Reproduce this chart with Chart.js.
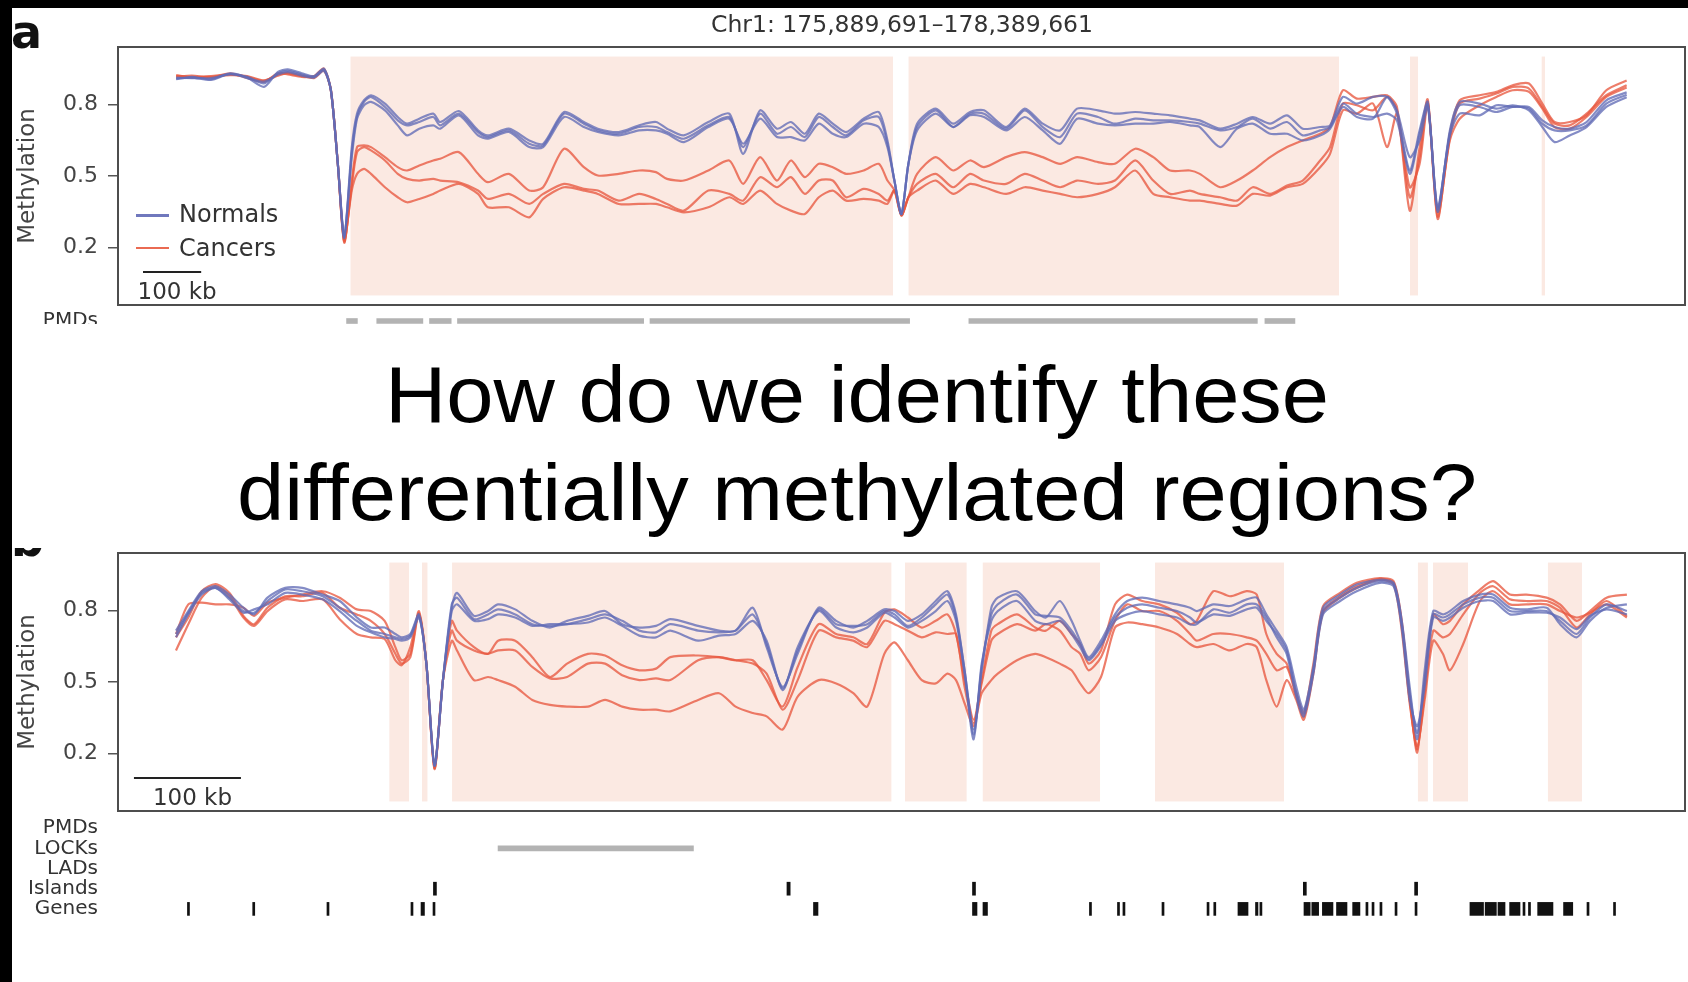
<!DOCTYPE html>
<html>
<head>
<meta charset="utf-8">
<title>Differentially methylated regions</title>
<script src="https://cdn.jsdelivr.net/npm/chart.js@4.4.0/dist/chart.umd.min.js"></script>
<style>
    html, body { margin: 0; padding: 0; background: #fff; }
    #page { position: relative; width: 1688px; height: 982px; overflow: hidden; background: #fff; }
    canvas { position: absolute; left: 0; }
    .txt { position: absolute; white-space: nowrap; font-family: 'DejaVu Sans', sans-serif; color: #333; line-height: 1; }
    .swatch { position: absolute; height: 2.5px; }
    .mask { position: absolute; background: #fff; }
    .black { position: absolute; background: #000; }
    .question { position: absolute; left: 857px; white-space: nowrap; font-family: 'Liberation Sans', Arial, sans-serif;
                font-size: 79px; line-height: 1; color: #000; transform: translateX(-50%) scaleX(1.075); }
</style>
</head>
<body>
<div id="page">
    <canvas id="chartA" width="1688" height="312" style="top:0px"></canvas>
    <canvas id="trackA" width="1688" height="35" style="top:305px"></canvas>
    <canvas id="chartB" width="1688" height="280" style="top:540px"></canvas>
    <canvas id="trackB" width="1688" height="110" style="top:814px"></canvas>

    <div class="txt" style="left:11px; top:9px; font-size:46px; font-weight:bold; color:#111">a</div>
    <div class="txt" style="left:11px; top:517px; font-size:46px; font-weight:bold; color:#111">b</div>
    <div class="txt" style="left:902px; top:12.5px; font-size:23.5px; transform:translateX(-50%)">Chr1: 175,889,691–178,389,661</div>

    <div class="swatch" style="left:136px; top:214px; width:33px; background:#7078bd"></div>
    <div class="txt" style="left:179px; top:202px; font-size:24px">Normals</div>
    <div class="swatch" style="left:136px; top:246.5px; width:33px; background:#ea6a52"></div>
    <div class="txt" style="left:179px; top:236px; font-size:24px">Cancers</div>

    <div class="mask" style="left:12px; top:324px; width:1676px; height:224px"></div>
    <div class="question" style="top:355px">How do we identify these</div>
    <div class="question" style="top:453px">differentially methylated regions?</div>

    <div class="black" style="left:0; top:0; width:1688px; height:8px"></div>
    <div class="black" style="left:0; top:0; width:12px; height:982px"></div>
</div>

<script>
// Axis ticks
const yTicks = [0.2, 0.5, 0.8];
const trackLabels = ['PMDs', 'LOCKs', 'LADs', 'Islands', 'Genes'];

// Panel a: chr1 175,889,691-178,389,661, positions in kb from region start
const aKb = [2, 29, 62, 95, 124, 153, 177, 194, 218, 239, 256, 268, 280, 291, 304, 313, 325, 337, 361, 383,
    399, 420, 444, 456, 488, 521, 538, 574, 609, 633, 669, 703, 727, 763, 798, 827, 846, 875, 917, 953,
    977, 1006, 1035, 1059, 1083, 1107, 1131, 1154, 1184, 1210, 1225, 1237, 1249, 1261, 1276, 1308, 1338, 1367, 1391, 1429,
    1461, 1492, 1522, 1551, 1587, 1616, 1651, 1682, 1711, 1745, 1762, 1797, 1826, 1853, 1883, 1912, 1939, 1969, 1986, 2008,
    2032, 2060, 2084, 2101, 2123, 2140, 2154, 2171, 2192, 2209, 2243, 2272, 2300, 2328, 2351, 2372, 2398, 2427, 2461, 2496];
const aNormal1 = [.905, .915, .905, .93, .912, .873, .936, .946, .93, .918, .95, .86, .55, .24, .62, .761, .817, .838, .803, .747,
    .719, .74, .761, .726, .772, .691, .67, .698, .649, .635, .768, .726, .698, .684, .712, .726, .698, .67, .726, .761,
    .593, .775, .698, .726, .677, .761, .719, .684, .74, .768, .649, .48, .341, .55, .719, .782, .719, .768, .775, .705,
    .782, .719, .691, .782, .775, .761, .768, .761, .754, .74, .733, .698, .719, .747, .719, .754, .698, .705, .712, .831,
    .803, .831, .831, .761, .523, .691, .81, .35, .691, .81, .803, .782, .796, .775, .705, .642, .67, .705, .789, .83];
const aNormal2 = [.912, .91, .91, .925, .915, .888, .93, .94, .925, .915, .945, .86, .55, .245, .6, .75, .81, .831, .789, .733,
    .712, .726, .747, .712, .761, .684, .663, .691, .635, .628, .761, .719, .691, .677, .705, .705, .684, .656, .712, .747,
    .621, .761, .677, .705, .663, .747, .705, .67, .733, .747, .635, .48, .341, .55, .705, .775, .705, .761, .761, .698,
    .775, .705, .663, .761, .747, .719, .74, .733, .733, .726, .719, .691, .705, .74, .698, .726, .67, .691, .705, .803,
    .761, .747, .761, .733, .509, .677, .8, .36, .68, .796, .789, .768, .789, .782, .719, .691, .691, .712, .803, .84];
const aNormal3 = [.908, .912, .902, .928, .91, .895, .925, .935, .92, .912, .94, .86, .55, .25, .58, .74, .796, .81, .775, .712,
    .67, .698, .712, .698, .754, .67, .656, .684, .621, .621, .747, .705, .684, .67, .691, .691, .677, .642, .705, .74,
    .635, .74, .663, .663, .649, .719, .677, .663, .719, .705, .621, .48, .341, .55, .691, .761, .705, .754, .747, .691,
    .747, .691, .635, .74, .719, .712, .719, .719, .726, .712, .705, .621, .698, .719, .677, .677, .649, .67, .698, .789,
    .747, .74, .831, .775, .579, .649, .79, .37, .67, .761, .754, .796, .789, .789, .733, .705, .698, .726, .817, .85];
const aCancer1 = [.918, .915, .918, .925, .915, .898, .925, .93, .918, .915, .945, .86, .55, .22, .48, .621, .628, .621, .579, .537,
    .523, .544, .565, .572, .6, .509, .474, .509, .439, .453, .614, .537, .502, .509, .523, .516, .488, .481, .523, .565,
    .467, .579, .481, .565, .495, .551, .537, .509, .523, .551, .481, .44, .335, .411, .509, .579, .523, .565, .537, .579,
    .6, .579, .551, .579, .558, .551, .614, .579, .523, .523, .509, .453, .481, .523, .579, .621, .649, .677, .705, .859,
    .824, .831, .838, .789, .355, .621, .82, .32, .677, .817, .838, .852, .88, .887, .803, .726, .726, .754, .859, .9];
const aCancer2 = [.915, .92, .912, .93, .91, .894, .93, .925, .915, .918, .95, .86, .55, .225, .46, .6, .621, .607, .565, .509,
    .488, .481, .488, .481, .474, .439, .404, .425, .383, .425, .467, .446, .439, .397, .425, .404, .383, .355, .439, .425,
    .397, .495, .453, .495, .425, .481, .481, .411, .446, .425, .397, .44, .335, .411, .467, .509, .453, .509, .481, .467,
    .509, .481, .453, .481, .467, .481, .565, .481, .425, .439, .425, .411, .397, .453, .425, .46, .481, .565, .621, .803,
    .796, .775, .831, .775, .411, .579, .81, .33, .66, .803, .824, .845, .873, .866, .789, .719, .712, .761, .838, .88];
const aCancer3 = [.922, .912, .915, .922, .918, .9, .92, .932, .92, .91, .94, .86, .55, .23, .44, .509, .53, .509, .453, .411,
    .39, .404, .425, .439, .467, .425, .369, .369, .327, .404, .453, .439, .425, .383, .383, .383, .369, .348, .369, .411,
    .383, .439, .383, .355, .341, .411, .439, .397, .404, .397, .383, .44, .335, .411, .439, .481, .425, .467, .453, .425,
    .453, .439, .425, .411, .425, .453, .523, .425, .411, .397, .397, .383, .376, .425, .418, .453, .467, .537, .593, .775,
    .761, .803, .621, .761, .453, .551, .8, .35, .65, .74, .796, .831, .859, .852, .782, .705, .698, .747, .831, .87];
const aShaded = [[301.8, 1234.5], [1261.3, 2001.4], [2123.5, 2137.2], [2349.9, 2355.6]];
const aPmds = [[295, 313.6], [346.9, 426.2], [437.6, 474.9], [485.7, 805.8], [816.7, 1263.1], [1365, 1861], [1874, 1925.6]];

// Panel b: positions in kb from region start
const bKb = [0, 11.5, 24, 37, 50, 63, 73, 85.5, 102, 118, 137, 153, 169, 182, 195, 205, 211, 219, 227, 234,
    241.6, 249.5, 257.7, 262.6, 278.5, 291.6, 301, 317, 333, 349.5, 365.5, 385, 401, 417, 433, 448.6, 462, 488, 507.5, 523,
    539, 552, 567, 581, 600.6, 617, 633, 646, 662, 671.5, 684, 697, 710, 721, 729, 737, 745.5, 753, 762, 768,
    786, 803, 813, 826, 837, 845, 853, 864.5, 877.6, 889, 903, 919, 935.5, 947.7, 954, 969.5, 985, 1000.7, 1010, 1019,
    1028.7, 1038, 1047, 1054, 1063, 1072, 1088, 1103.5, 1125, 1138, 1145.6, 1153, 1160, 1167, 1175, 1184, 1190.6, 1203, 1218.7, 1231,
    1246.7, 1262, 1281, 1293.5, 1309, 1321.5, 1337, 1356];
const bNormal1 = [.715, .797, .88, .901, .866, .811, .783, .853, .894, .894, .866, .839, .77, .728, .728, .701, .687, .701, .783, .577,
    .15, .508, .811, .873, .777, .797, .825, .804, .756, .728, .756, .777, .797, .742, .728, .735, .763, .735, .715, .715,
    .811, .646, .48, .618, .811, .756, .728, .756, .804, .797, .756, .783, .839, .88, .783, .549, .301, .549, .811, .853,
    .88, .797, .77, .839, .756, .673, .604, .673, .783, .839, .853, .839, .825, .811, .797, .825, .818, .846, .853, .783,
    .715, .646, .48, .384, .563, .811, .866, .908, .928, .915, .756, .48, .26, .549, .797, .783, .797, .839, .866, .866,
    .811, .804, .811, .742, .687, .756, .811, .825];
const bNormal2 = [.701, .79, .873, .894, .853, .797, .79, .839, .887, .88, .859, .811, .756, .715, .701, .687, .68, .694, .777, .577,
    .15, .508, .825, .853, .763, .783, .804, .783, .742, .735, .742, .763, .783, .756, .715, .708, .742, .715, .708, .715,
    .783, .659, .473, .632, .804, .742, .735, .742, .797, .783, .735, .77, .825, .866, .77, .549, .28, .563, .783, .825,
    .866, .783, .777, .77, .715, .659, .597, .659, .77, .811, .825, .811, .797, .77, .749, .783, .777, .804, .811, .756,
    .701, .632, .453, .37, .549, .797, .853, .894, .922, .908, .742, .453, .287, .508, .783, .77, .783, .825, .853, .853,
    .797, .797, .797, .756, .701, .77, .825, .797];
const bNormal3 = [.687, .783, .866, .894, .846, .79, .804, .825, .873, .866, .846, .797, .735, .708, .687, .68, .673, .687, .77, .577,
    .15, .508, .797, .825, .756, .763, .783, .77, .735, .742, .742, .749, .77, .735, .694, .687, .715, .673, .694, .701,
    .756, .673, .466, .646, .797, .728, .708, .728, .79, .77, .728, .756, .797, .839, .756, .535, .26, .577, .756, .797,
    .839, .756, .742, .756, .701, .646, .591, .652, .756, .783, .797, .783, .77, .742, .742, .804, .79, .825, .825, .77,
    .687, .618, .439, .356, .535, .783, .839, .88, .915, .901, .728, .425, .315, .48, .77, .756, .77, .811, .839, .839,
    .783, .79, .79, .77, .721, .777, .804, .783];
const bCancer1 = [.701, .825, .832, .825, .825, .811, .777, .832, .853, .866, .88, .853, .804, .797, .756, .646, .591, .618, .797, .577,
    .14, .508, .756, .715, .646, .618, .673, .673, .604, .521, .577, .618, .611, .57, .549, .556, .604, .611, .604, .591,
    .591, .508, .397, .563, .742, .701, .687, .659, .79, .804, .77, .728, .756, .783, .701, .508, .342, .508, .715, .742,
    .783, .728, .715, .756, .701, .659, .577, .632, .825, .866, .839, .825, .79, .742, .756, .88, .859, .88, .866, .701,
    .618, .577, .453, .37, .577, .818, .873, .915, .935, .922, .756, .439, .204, .508, .783, .742, .756, .825, .887, .922,
    .866, .866, .853, .825, .756, .797, .853, .866];
const bCancer2 = [.687, .77, .88, .91, .873, .777, .742, .811, .859, .859, .873, .811, .783, .756, .701, .618, .577, .604, .79, .577,
    .135, .508, .715, .673, .632, .618, .632, .632, .563, .515, .521, .577, .577, .528, .508, .515, .508, .591, .604, .591,
    .577, .535, .384, .508, .715, .687, .673, .646, .756, .742, .715, .687, .708, .701, .701, .48, .328, .494, .673, .701,
    .742, .715, .742, .715, .646, .618, .549, .604, .756, .825, .797, .797, .756, .701, .673, .701, .701, .687, .673, .618,
    .549, .563, .439, .356, .549, .797, .859, .901, .932, .915, .742, .425, .218, .453, .715, .687, .701, .783, .873, .901,
    .846, .839, .839, .811, .728, .783, .839, .777];
const bCancer3 = [.632, .742, .853, .901, .859, .77, .735, .797, .846, .839, .846, .763, .701, .687, .68, .591, .57, .646, .783, .577,
    .14, .508, .673, .632, .508, .521, .508, .48, .425, .404, .397, .397, .425, .397, .384, .384, .377, .425, .453, .397,
    .37, .356, .301, .439, .508, .494, .453, .397, .618, .666, .591, .508, .494, .535, .508, .411, .315, .453, .508, .535,
    .591, .618, .604, .577, .549, .494, .453, .521, .728, .749, .742, .728, .701, .659, .646, .659, .632, .659, .646, .508,
    .397, .508, .425, .342, .535, .79, .853, .894, .928, .908, .715, .411, .232, .425, .673, .618, .549, .659, .839, .88,
    .825, .825, .825, .797, .77, .79, .825, .77];
const bShaded = [[199.4, 217.8], [229.9, 235], [258, 668.6], [681.3, 738.9], [754, 863.6], [915, 1035.5],
    [1160.7, 1170], [1174.8, 1207.5], [1282.2, 1314]];
const bLocks = [[301, 483.6]];
const bIslands = [[240.6, 243.4], [571, 574], [744.4, 747.2], [1053.6, 1056.4], [1157.6, 1160.4]];
const bGenes = [[10.7, 12.6], [71.7, 73.6], [141.1, 143], [219.6, 221.5], [229, 232.2], [240.2, 242], [595.8, 600],
    [744.4, 748.6], [754.2, 758.4], [853.7, 855.6], [879.9, 881.8], [885, 886.9], [921.5, 923.4], [963.6, 965.4],
    [969.9, 971.8], [992.5, 1001.9], [1008.9, 1011.2], [1013, 1014.9], [1054.2, 1060], [1061.5, 1067.9], [1071.4, 1081.3],
    [1084.6, 1094.4], [1099.7, 1106.5], [1112.1, 1114], [1117.8, 1119.6], [1125.2, 1127.1], [1139.3, 1141.1], [1158, 1159.8],
    [1209.3, 1222], [1223.5, 1234], [1235.5, 1242.1], [1246.4, 1256.1], [1258.9, 1260.7], [1264, 1265.9], [1272.6, 1286.9],
    [1296.8, 1305.4], [1318.7, 1320.6], [1343.5, 1345.3]];

// Shared look
const colors = {
    normal: 'rgba(98, 108, 182, 0.78)',
    cancer: 'rgba(232, 88, 64, 0.78)',
    shade: '#fbe9e2',
    frame: '#4d4d4d',
    text: '#333',
    track: '#b3b3b3',
    tick: '#111'
};
Chart.defaults.font.family = "'DejaVu Sans', sans-serif";
Chart.defaults.color = colors.text;

// fixed axis width, and no extra room above/below for the tick labels
function pinAxis(s) {
    s.width = 118;
    s.paddingTop = 0;
    s.paddingBottom = 0;
}

// Shaded blocks, 100 kb bar and frame
const panelDecor = {
    id: 'panelDecor',
    beforeDatasetsDraw(chart, args, opts) {
        const { ctx, scales: { x, y } } = chart;
        const top = y.getPixelForValue(1), bottom = y.getPixelForValue(0);
        ctx.save();
        ctx.fillStyle = colors.shade;
        opts.shaded.forEach(([s, e]) => {
            const x0 = x.getPixelForValue(s), x1 = x.getPixelForValue(e);
            ctx.fillRect(x0, top, x1 - x0, bottom - top);
        });
        ctx.restore();
    },
    afterDraw(chart, args, opts) {
        const { ctx, chartArea: a, scales: { x, y } } = chart;
        ctx.save();
        const x0 = x.getPixelForValue(opts.barStart), x1 = x.getPixelForValue(opts.barStart + 100);
        const yb = Math.round(y.getPixelForValue(0.1));
        ctx.strokeStyle = '#222';
        ctx.lineWidth = 2.2;
        ctx.beginPath();
        ctx.moveTo(x0, yb);
        ctx.lineTo(x1, yb);
        ctx.stroke();
        ctx.fillStyle = colors.text;
        ctx.font = "23px 'DejaVu Sans'";
        ctx.textAlign = 'center';
        ctx.textBaseline = 'alphabetic';
        ctx.fillText('100 kb', (x0 + x1) / 2 + 5, y.getPixelForValue(-0.015));
        ctx.strokeStyle = colors.frame;
        ctx.lineWidth = 2;
        ctx.strokeRect(a.left, a.top, a.right - a.left, a.bottom - a.top);
        ctx.restore();
    }
};

function series(xs, ys, color) {
    return {
        data: xs.map((x, i) => ({ x, y: ys[i] })),
        borderColor: color,
        borderWidth: 2.2,
        pointRadius: 0,
        tension: 0.25,
        fill: false
    };
}

function methylationChart(id, xs, normals, cancers, xRange, pad, decor) {
    new Chart(document.getElementById(id), {
        type: 'line',
        data: {
            datasets: [
                ...normals.map(s => series(xs, s, colors.normal)),
                ...cancers.map(s => series(xs, s, colors.cancer))
            ]
        },
        options: {
            responsive: false,
            animation: false,
            devicePixelRatio: 1,
            layout: { padding: { top: pad.top, bottom: pad.bottom, left: 0, right: 3 } },
            plugins: {
                legend: { display: false },
                tooltip: { enabled: false },
                panelDecor: decor
            },
            scales: {
                x: { type: 'linear', min: xRange[0], max: xRange[1], display: false },
                y: {
                    min: -0.04,
                    max: 1.04,
                    afterBuildTicks: s => { s.ticks = yTicks.map(v => ({ value: v })); },
                    afterFit: pinAxis,
                    ticks: { font: { size: 22 }, color: '#444', padding: 10 },
                    grid: { drawOnChartArea: false, tickLength: 10, color: '#555', lineWidth: 1.5 },
                    border: { display: false },
                    title: { display: true, text: 'Methylation', font: { size: 23 }, color: '#444', padding: { top: 14, bottom: 0 } }
                }
            }
        },
        plugins: [panelDecor]
    });
}

function trackChart(id, labels, tracks, xRange, pad) {
    new Chart(document.getElementById(id), {
        type: 'bar',
        data: {
            labels: labels,
            datasets: tracks.map(t => ({
                data: t.spans.map(([s, e]) => ({ x: [s, e], y: t.label })),
                backgroundColor: t.color,
                barThickness: t.thickness,
                grouped: false,
                minBarLength: 2
            }))
        },
        options: {
            indexAxis: 'y',
            responsive: false,
            animation: false,
            devicePixelRatio: 1,
            layout: { padding: { top: pad.top, bottom: pad.bottom, left: 0, right: 3 } },
            plugins: { legend: { display: false }, tooltip: { enabled: false } },
            scales: {
                x: { type: 'linear', min: xRange[0], max: xRange[1], display: false },
                y: {
                    type: 'category',
                    afterFit: pinAxis,
                    grid: { display: false },
                    border: { display: false },
                    ticks: { autoSkip: false, padding: 12, font: { size: 20 }, color: colors.text }
                }
            }
        }
    });
}

// a
methylationChart('chartA', aKb, [aNormal1, aNormal2, aNormal3], [aCancer1, aCancer2, aCancer3],
    [-98, 2596.3], { top: 47, bottom: 7 }, { shaded: aShaded, barStart: -55 });
trackChart('trackA', ['PMDs'], [
    { label: 'PMDs', spans: aPmds, color: colors.track, thickness: 5 }
], [-98, 2596.3], { top: 6, bottom: 9 });

// b
methylationChart('chartB', bKb, [bNormal1, bNormal2, bNormal3], [bCancer1, bCancer2, bCancer3],
    [-54.2, 1410.3], { top: 13, bottom: 9 }, { shaded: bShaded, barStart: -39.3 });
trackChart('trackB', trackLabels, [
    { label: 'LOCKs', spans: bLocks, color: colors.track, thickness: 5 },
    { label: 'Islands', spans: bIslands, color: colors.tick, thickness: 13 },
    { label: 'Genes', spans: bGenes, color: colors.tick, thickness: 13 }
], [-54.2, 1410.3], { top: 4, bottom: 5 });
</script>
</body>
</html>
